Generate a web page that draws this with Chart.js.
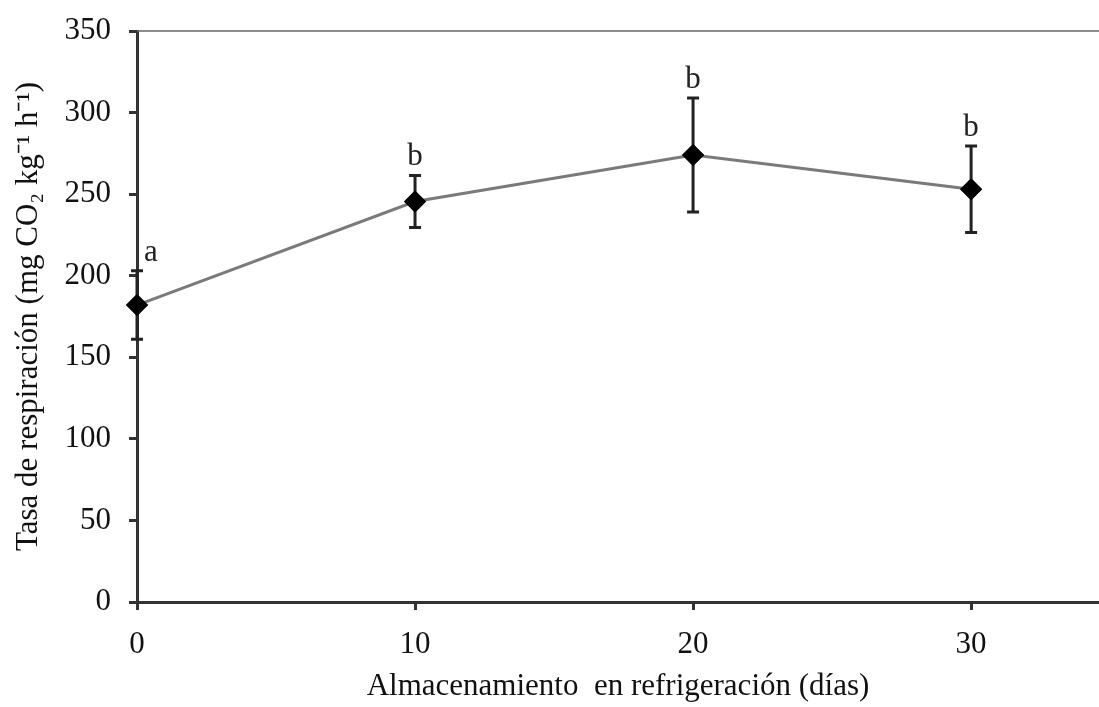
<!DOCTYPE html>
<html>
<head>
<meta charset="utf-8">
<script src="https://cdn.jsdelivr.net/npm/chart.js@4.4.1/dist/chart.umd.min.js"></script>
<style>
  html, body { margin: 0; padding: 0; background: #fff; }
  #wrap { width: 1099px; height: 707px; }
</style>
</head>
<body>
<div id="wrap"><canvas id="respChart"></canvas></div>
<script>
    // Storage days and respiration rate (mg CO2 kg-1 h-1)
    const days = [0, 10, 20, 30];
    const rates = [182, 245.5, 274, 253];
    const errors = [21, 16, 35, 26.5];
    const letters = ['a', 'b', 'b', 'b'];
    const xTicks = [0, 10, 20, 30];
    const yTicks = [0, 50, 100, 150, 200, 250, 300, 350];

    const serif = "'Liberation Serif', 'Times New Roman', serif";
    const axisColor = '#333333';
    const fontSize = 31;

    const errorBars = {
        id: 'errorBars',
        afterDatasetsDraw(chart) {
            const ctx = chart.ctx;
            const xs = chart.scales.x;
            const ys = chart.scales.y;
            const area = chart.chartArea;

            // thin frame line along the top
            ctx.save();
            ctx.strokeStyle = '#666666';
            ctx.lineWidth = 1.5;
            ctx.beginPath();
            ctx.moveTo(area.left, ys.getPixelForValue(350));
            ctx.lineTo(area.right, ys.getPixelForValue(350));
            ctx.stroke();

            ctx.strokeStyle = '#222222';
            ctx.lineWidth = 3;
            days.forEach((d, i) => {
                const px = xs.getPixelForValue(d);
                const top = ys.getPixelForValue(rates[i] + errors[i]);
                const bot = ys.getPixelForValue(rates[i] - errors[i]);
                ctx.beginPath();
                ctx.moveTo(px, top);
                ctx.lineTo(px, bot);
                ctx.moveTo(px - 6, top);
                ctx.lineTo(px + 6, top);
                ctx.moveTo(px - 6, bot);
                ctx.lineTo(px + 6, bot);
                ctx.stroke();

                ctx.fillStyle = '#222222';
                ctx.font = fontSize + 'px ' + serif;
                ctx.textAlign = 'center';
                ctx.textBaseline = 'alphabetic';
                const shift = i === 0 ? 14 : 0;
                ctx.fillText(letters[i], px + shift, top - 10);
            });
            ctx.restore();

            // redraw markers above the error bars
            chart.getDatasetMeta(0).data.forEach(pt => pt.draw(ctx, area));
        }
    };

    function initializeChart() {
        const ctx = document.getElementById('respChart');

        new Chart(ctx, {
            type: 'scatter',
            data: {
                datasets: [{
                    label: 'Tasa de respiración',
                    data: days.map((d, i) => ({ x: d, y: rates[i] })),
                    showLine: true,
                    borderColor: '#7a7a7a',
                    borderWidth: 3,
                    pointStyle: 'rectRot',
                    pointRadius: 11,
                    pointHoverRadius: 11,
                    pointBackgroundColor: '#000000',
                    pointBorderColor: '#000000',
                    pointBorderWidth: 0,
                    clip: false
                }]
            },
            options: {
                responsive: true,
                maintainAspectRatio: false,
                animation: false,
                layout: {
                    autoPadding: false,
                    padding: { top: 31, right: 0, left: 0, bottom: 0 }
                },
                plugins: {
                    legend: { display: false },
                    tooltip: { enabled: false }
                },
                scales: {
                    x: {
                        type: 'linear',
                        min: 0,
                        max: 34.6,
                        afterBuildTicks: scale => { scale.ticks = xTicks.map(v => ({ value: v })); },
                        afterFit: scale => {
                            scale.height = 105;
                            scale.paddingLeft = 0;
                            scale.paddingRight = 0;
                        },
                        grid: {
                            display: true,
                            drawOnChartArea: false,
                            drawTicks: true,
                            tickLength: 8,
                            tickWidth: 3,
                            tickColor: axisColor
                        },
                        border: { display: true, color: axisColor, width: 3 },
                        ticks: {
                            color: '#111111',
                            font: { family: serif, size: fontSize },
                            padding: 16,
                            maxRotation: 0
                        },
                        title: {
                            display: true,
                            text: 'Almacenamiento  en refrigeración (días)',
                            color: '#111111',
                            font: { family: serif, size: fontSize },
                            padding: { top: 0, bottom: 2 }
                        }
                    },
                    y: {
                        min: 0,
                        max: 350,
                        afterBuildTicks: scale => { scale.ticks = yTicks.map(v => ({ value: v })); },
                        afterFit: scale => {
                            scale.width = 137;
                            scale.paddingTop = 0;
                            scale.paddingBottom = 0;
                        },
                        grid: {
                            display: true,
                            drawOnChartArea: false,
                            drawTicks: true,
                            tickLength: 8,
                            tickWidth: 3,
                            tickColor: axisColor
                        },
                        border: { display: true, color: axisColor, width: 3 },
                        ticks: {
                            color: '#111111',
                            font: { family: serif, size: fontSize },
                            padding: 18
                        },
                        title: {
                            display: true,
                            text: 'Tasa de respiración (mg CO₂ kg⁻¹ h⁻¹)',
                            color: '#111111',
                            font: { family: serif, size: fontSize },
                            padding: { top: 10, bottom: 0 }
                        }
                    }
                }
            },
            plugins: [errorBars]
        });
    }

    initializeChart();
</script>
</body>
</html>
